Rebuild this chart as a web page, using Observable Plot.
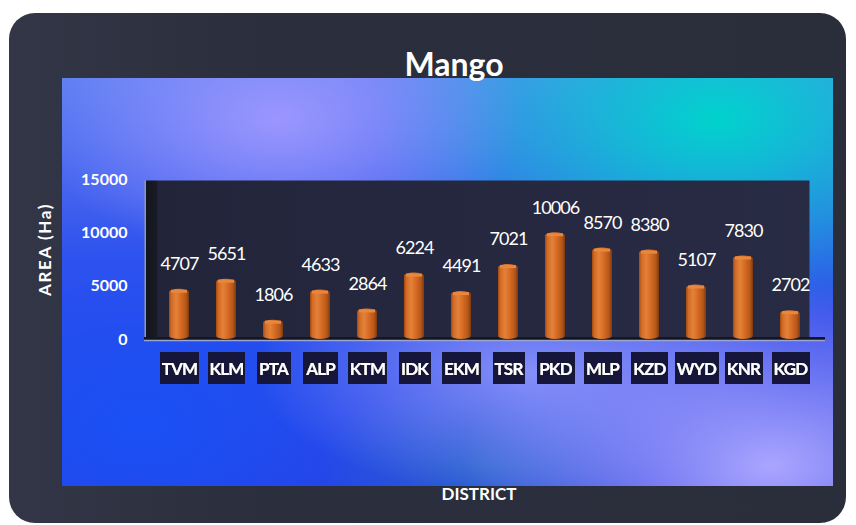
<!DOCTYPE html>
<html>
<head>
<meta charset="utf-8">
<script src="https://cdn.jsdelivr.net/npm/d3@7"></script>
<script src="https://cdn.jsdelivr.net/npm/@observablehq/plot@0.6"></script>
<style>
  html, body { margin: 0; padding: 0; background: #ffffff; }
  #wrap { position: relative; width: 856px; height: 525px; overflow: hidden; }
  .outer { position: absolute; left: 9px; top: 13px; width: 837px; height: 510px; border-radius: 26px;
    background: linear-gradient(90deg, #333646 0%, #2b2e3c 30%, #2a2d3a 100%); }
  .panel { position: absolute; left: 62px; top: 78px; width: 771px; height: 408px;
    background:
      radial-gradient(ellipse 32% 35% at 28% 10%, rgba(160,152,255,0.95), rgba(160,152,255,0) 100%),
      radial-gradient(ellipse 45% 50% at 85% 10%, rgba(0,210,205,1), rgba(0,210,205,0) 100%),
      radial-gradient(ellipse 40% 45% at 92% 95%, rgba(170,165,255,1), rgba(170,165,255,0) 100%),
      radial-gradient(ellipse 35% 30% at 60% 72%, rgba(140,150,250,0.9), rgba(140,150,250,0) 100%),
      radial-gradient(ellipse 22% 22% at 55% 95%, rgba(40,110,200,0.8), rgba(40,110,200,0) 100%),
      radial-gradient(ellipse 45% 55% at 10% 85%, rgba(25,80,245,1), rgba(25,80,245,0) 100%),
      linear-gradient(180deg, #5a7ef2 0%, #3452ec 45%, #2b3ee0 100%);
  }
  #chart { position: absolute; left: 0; top: 0; }
  #chart g[aria-label="x-axis tick label"] text { letter-spacing: -0.8px; }
</style>
</head>
<body>
<div id="wrap">
  <div class="outer"></div>
  <div class="panel"></div>
  <div id="chart"></div>
</div>
<script>
const districts = ["TVM","KLM","PTA","ALP","KTM","IDK","EKM","TSR","PKD","MLP","KZD","WYD","KNR","KGD"];
const areas = [4707,5651,1806,4633,2864,6224,4491,7021,10006,8570,8380,5107,7830,2702];
const yTicks = [0, 5000, 10000, 15000];
const titleText = "Mango";
const yLabel = "AREA (Ha)";
const xLabel = "DISTRICT";

const data = districts.map((d, i) => ({district: d, area: areas[i]}));
const font = "Lato, 'Open Sans', sans-serif";

const svg = Plot.plot({
  width: 856,
  height: 525,
  marginLeft: 152,
  marginRight: 39,
  marginTop: 179,
  marginBottom: 186,
  style: {background: "transparent", color: "white", fontFamily: font, overflow: "visible"},
  x: {domain: districts, paddingInner: 0.58, paddingOuter: 0.29, axis: null},
  y: {domain: [0, 15000], axis: null},
  marks: [
    Plot.frame({fill: "url(#wallGrad)", stroke: "none", insetLeft: -8, insetRight: 8, insetTop: 1}),
    Plot.ruleY([0], {stroke: "#141622", strokeWidth: 3, insetLeft: -8, insetRight: -8, dy: -1}),
    Plot.ruleY([0], {stroke: "#9aa6d0", strokeWidth: 1.5, insetLeft: -8, insetRight: -8, dy: 1}),
    Plot.barY(data, {x: "district", y: "area", fill: "url(#barGrad)", rx: 10, ry: 3}),
    Plot.tickY(data, {x: "district", y: "area", stroke: "#e8883f", strokeWidth: 3, insetLeft: 2, insetRight: 2, dy: 2}),
    Plot.text(data, {x: "district", y: "area", text: d => String(d.area), dy: -25, fill: "white",
      fontSize: 18, fontFamily: font}),
    Plot.axisY({ticks: yTicks, tickSize: 0, tickPadding: 25, tickFormat: d => String(d), label: null,
      fontSize: 16, fontWeight: "bold", color: "white", fontFamily: font}),
    Plot.axisX({tickSize: 0, tickPadding: 23, label: null, fontSize: 17, fontWeight: "bold",
      color: "white", fontFamily: font}),
    Plot.text([titleText], {frameAnchor: "top", lineAnchor: "middle", textAnchor: "middle", dx: -31, dy: -114,
      fill: "white", fontSize: 32, fontWeight: "bold", fontFamily: font}),
    Plot.text([yLabel], {frameAnchor: "left", lineAnchor: "middle", textAnchor: "middle", rotate: -90,
      dx: -107, dy: -10, fill: "white", fontSize: 17, fontWeight: "bold", fontFamily: font}),
    Plot.text([xLabel], {frameAnchor: "bottom", lineAnchor: "middle", textAnchor: "middle", dx: -6, dy: 155,
      fill: "white", fontSize: 17, fontWeight: "bold", fontFamily: font})
  ]
});

const defs = d3.select(svg).insert("defs", ":first-child");
const bar = defs.append("linearGradient").attr("id", "barGrad").attr("x1", 0).attr("x2", 1).attr("y1", 0).attr("y2", 0);
[["0%", "#a04a12"], ["12%", "#d26a24"], ["35%", "#e3823a"], ["60%", "#d66a22"], ["85%", "#b4561a"], ["100%", "#7c3a10"]]
  .forEach(([o, c]) => bar.append("stop").attr("offset", o).attr("stop-color", c));
const wall = defs.append("linearGradient").attr("id", "wallGrad").attr("x1", 0).attr("x2", 1).attr("y1", 0).attr("y2", 0);
[["0%", "#8e9ab0"], ["0.2%", "#8e9ab0"], ["0.2%", "#13151d"], ["1.8%", "#181a25"], ["2.0%", "#22253a"], ["100%", "#282b44"]]
  .forEach(([o, c]) => wall.append("stop").attr("offset", o).attr("stop-color", c));
const box = defs.append("filter").attr("id", "labelBox").attr("x", -0.04).attr("y", -0.24).attr("width", 1.08).attr("height", 1.48);
box.append("feFlood").attr("flood-color", "#12173a");
box.append("feComposite").attr("in", "SourceGraphic").attr("operator", "over");
d3.select(svg).selectAll('g[aria-label="x-axis tick label"] text').attr("filter", "url(#labelBox)");

const valueStrings = new Set(areas.map(String));
d3.select(svg).selectAll('g[aria-label="text"] text')
  .filter(function() { return valueStrings.has(this.textContent); })
  .style("letter-spacing", "-0.9px");
d3.select(svg).selectAll('g[aria-label="text"] text')
  .filter(function() { return this.textContent === yLabel; })
  .style("letter-spacing", "1.6px");

document.getElementById("chart").append(svg);
</script>
</body>
</html>
